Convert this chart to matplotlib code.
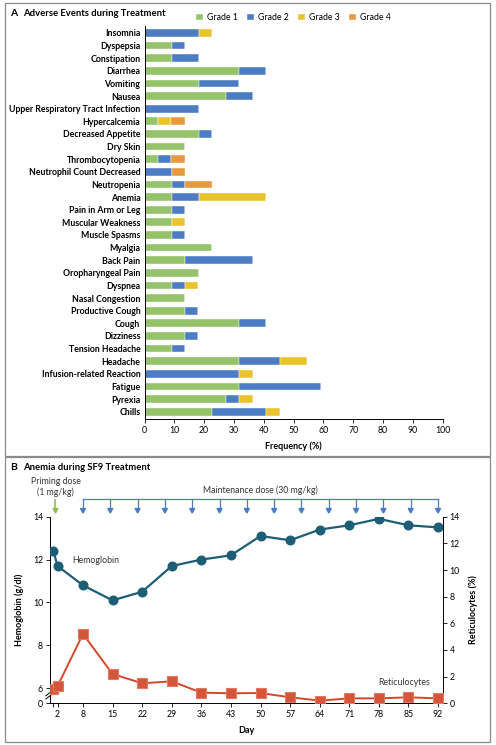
import numpy as np
import matplotlib
matplotlib.use("Agg")
import matplotlib.pyplot as plt
from matplotlib.patches import Rectangle

plt.rcParams['font.family'] = ['Lato', 'DejaVu Sans']

# ---- panel A data (percent of patients, n = 22) ----
events = ["Insomnia", "Dyspepsia", "Constipation", "Diarrhea", "Vomiting", "Nausea",
          "Upper Respiratory Tract Infection", "Hypercalcemia", "Decreased Appetite",
          "Dry Skin", "Thrombocytopenia", "Neutrophil Count Decreased", "Neutropenia",
          "Anemia", "Pain in Arm or Leg", "Muscular Weakness", "Muscle Spasms", "Myalgia",
          "Back Pain", "Oropharyngeal Pain", "Dyspnea", "Nasal Congestion",
          "Productive Cough", "Cough", "Dizziness", "Tension Headache", "Headache",
          "Infusion-related Reaction", "Fatigue", "Pyrexia", "Chills"]
grade1 = [0, 9.1, 9.1, 31.8, 18.2, 27.3, 0, 4.5, 18.2, 13.6, 4.5, 0, 9.1, 9.1, 9.1, 9.1,
          9.1, 22.7, 13.6, 18.2, 9.1, 13.6, 13.6, 31.8, 13.6, 9.1, 31.8, 0, 31.8, 27.3, 22.7]
grade2 = [18.2, 4.5, 9.1, 9.1, 13.6, 9.1, 18.2, 0, 4.5, 0, 4.5, 9.1, 4.5, 9.1, 4.5, 0,
          4.5, 0, 22.7, 0, 4.5, 0, 4.5, 9.1, 4.5, 4.5, 13.6, 31.8, 27.3, 4.5, 18.2]
grade3 = [4.5, 0, 0, 0, 0, 0, 0, 4.5, 0, 0, 0, 0, 0, 22.7, 0, 4.5, 0, 0, 0, 0, 4.5, 0,
          0, 0, 0, 0, 9.1, 4.5, 0, 4.5, 4.5]
grade4 = [0, 0, 0, 0, 0, 0, 0, 4.5, 0, 0, 4.5, 4.5, 9.1, 0, 0, 0, 0, 0, 0, 0, 0, 0,
          0, 0, 0, 0, 0, 0, 0, 0, 0]
grade_names = ["Grade 1", "Grade 2", "Grade 3", "Grade 4"]
grade_colors = ["#94c36a", "#4b7cc4", "#e9c32a", "#e69a3b"]

# ---- panel B data ----
days = [1, 2, 8, 15, 22, 29, 36, 43, 50, 57, 64, 71, 78, 85, 92]
hemoglobin = [12.4, 11.7, 10.8, 10.1, 10.5, 11.7, 12.0, 12.2, 13.1, 12.9, 13.4, 13.6, 13.9, 13.6, 13.5]
reticulocytes = [1.1, 1.3, 5.2, 2.2, 1.5, 1.65, 0.8, 0.75, 0.77, 0.45, 0.2, 0.37, 0.37, 0.45, 0.37]
day_ticks = [1, 2, 8, 15, 22, 29, 36, 43, 50, 57, 64, 71, 78, 85, 92]
day_labels = [""] + [str(d) for d in day_ticks[1:]]

W, H = 496, 745
fig = plt.figure(figsize=(W / 100, H / 100), dpi=100)


def fx(px):
    return px / W


def fy(py):
    return 1 - py / H


# panel frames
for top, bot in [(3, 456), (457, 742)]:
    fig.patches.append(Rectangle((fx(5), fy(bot)), fx(485), (bot - top) / H,
                                 transform=fig.transFigure, fill=False,
                                 edgecolor="#8a8a8a", linewidth=0.9))

# ---------------- Panel A ----------------
axA = fig.add_axes([fx(144.5), fy(419), fx(298.2), (419 - 26) / H])
y = np.arange(len(events))
left = np.zeros(len(events))
for vals, name, col in zip([grade1, grade2, grade3, grade4], grade_names, grade_colors):
    vals = np.array(vals)
    axA.barh(y, vals, left=left, height=0.62, color=col, label=name,
             edgecolor="white", linewidth=0.3)
    left += vals
axA.set_ylim(len(events) - 0.42, -0.55)
axA.set_xlim(0, 100)
axA.set_yticks(y)
axA.set_yticklabels(events, fontsize=6.3, fontweight="bold")
axA.set_xticks(range(0, 101, 10))
axA.tick_params(axis="x", labelsize=6.3, length=3, width=0.6, pad=2)
axA.tick_params(axis="y", length=0, pad=3)
for s in ["top", "right"]:
    axA.spines[s].set_visible(False)
for s in ["left", "bottom"]:
    axA.spines[s].set_linewidth(0.7)
axA.set_xlabel("Frequency (%)", fontsize=6.5, fontweight="bold", labelpad=5)
axA.legend(loc="center", bbox_to_anchor=(fx(293.5), fy(17.5)), bbox_transform=fig.transFigure,
           ncol=4, frameon=False, fontsize=6.3, handlelength=0.8, handleheight=0.8,
           handletextpad=0.5, columnspacing=1.0, borderpad=0)
fig.text(fx(10), fy(13), "A", fontsize=7.5, fontweight="bold", va="center")
fig.text(fx(23), fy(13), "Adverse Events during Treatment", fontsize=6.8,
         fontweight="bold", va="center")

# ---------------- Panel B ----------------
hb_col = "#1d5e76"
rt_col = "#d4472b"
axB = fig.add_axes([fx(50), fy(703.3), fx(392.7), (703.3 - 516.7) / H])
axB.set_xlim(0.2, 93.1)
axB.set_ylim(5.3, 14)
axB.plot(days, hemoglobin, color=hb_col, linewidth=1.6, marker="o", markersize=6.2,
         zorder=3)
axB.set_yticks([5.3, 6, 8, 10, 12, 14])
axB.set_yticklabels(["0", "6", "8", "10", "12", "14"])
axB.set_xticks(day_ticks)
axB.set_xticklabels(day_labels)
axB.tick_params(labelsize=6.3, length=3, width=0.6, pad=2)
axB.spines["top"].set_visible(False)
axB.spines["right"].set_visible(False)
axB.spines["left"].set_bounds(6 - 0.35, 14)
axB.spines["bottom"].set_linewidth(0.7)
axB.spines["left"].set_linewidth(0.7)
# lower stub of the broken axis
axB.plot([0.2, 0.2], [5.3, 5.6], color="black", linewidth=0.7, clip_on=False)
for dy in [0.0, 0.15]:
    axB.plot([-0.8, 1.2], [5.5 + dy, 5.8 + dy], color="black", linewidth=0.7, clip_on=False)
axB.set_ylabel("Hemoglobin (g/dl)", fontsize=6.5, fontweight="bold", labelpad=6)
axB.set_xlabel("Day", fontsize=6.5, fontweight="bold", labelpad=5)

axR = axB.twinx()
axR.set_ylim(0, 14)
axR.plot(days, reticulocytes, color=rt_col, linewidth=1.4, marker="s", markersize=6.5,
         markerfacecolor="#d5553a", markeredgecolor="#e07a62", markeredgewidth=0.8,
         zorder=3)
axR.set_yticks(range(0, 15, 2))
axR.tick_params(labelsize=6.3, length=3, width=0.6, pad=2)
axR.spines["top"].set_visible(False)
axR.spines["left"].set_visible(False)
axR.spines["bottom"].set_visible(False)
axR.spines["right"].set_linewidth(0.7)
axR.set_ylabel("Reticulocytes (%)", fontsize=6.5, fontweight="bold", labelpad=6)

axB.text(11, 11.95, "Hemoglobin", fontsize=6.3, ha="center", va="center", color="#333333")
axR.text(84, 1.55, "Reticulocytes", fontsize=6.3, ha="center", va="center",
         color="#333333")

# dosing schedule
dose_col = "#4b7cc4"
y_line = fy(499.3)
y_tip = fy(513)
dose_x = np.linspace(8, 92, 14)
to_fig = lambda d: fig.transFigure.inverted().transform(axB.transData.transform((d, 10)))[0]
fig.add_artist(plt.Line2D([to_fig(8), to_fig(92)], [y_line, y_line], color=dose_col,
                          linewidth=0.9, transform=fig.transFigure))
for d in dose_x:
    fig.add_artist(plt.Line2D([to_fig(d)] * 2, [y_line, y_tip + 0.004], color=dose_col,
                              linewidth=0.9, transform=fig.transFigure))
    fig.patches.append(plt.Polygon([[to_fig(d) - 0.005, y_tip + 0.006],
                                    [to_fig(d) + 0.005, y_tip + 0.006],
                                    [to_fig(d), y_tip]], closed=True, color=dose_col,
                                   transform=fig.transFigure))
xp = to_fig(1.5)
fig.add_artist(plt.Line2D([xp, xp], [fy(500), y_tip + 0.004], color="#8cc152",
                          linewidth=1.2, transform=fig.transFigure))
fig.patches.append(plt.Polygon([[xp - 0.005, y_tip + 0.006], [xp + 0.005, y_tip + 0.006],
                                [xp, y_tip]], closed=True, color="#8cc152",
                               transform=fig.transFigure))
fig.text(xp, fy(481), "Priming dose", fontsize=6.3, ha="center", va="center", color="#333333")
fig.text(xp, fy(492), "(1 mg/kg)", fontsize=6.3, ha="center", va="center", color="#333333")
fig.text(fx(260.5), fy(490), "Maintenance dose (30 mg/kg)", fontsize=6.3, ha="center",
         va="center", color="#333333")

fig.text(fx(10), fy(468), "B", fontsize=7.5, fontweight="bold", va="center")
fig.text(fx(23), fy(468), "Anemia during SF9 Treatment", fontsize=6.8,
         fontweight="bold", va="center")

fig.savefig("out.png", dpi=100)
